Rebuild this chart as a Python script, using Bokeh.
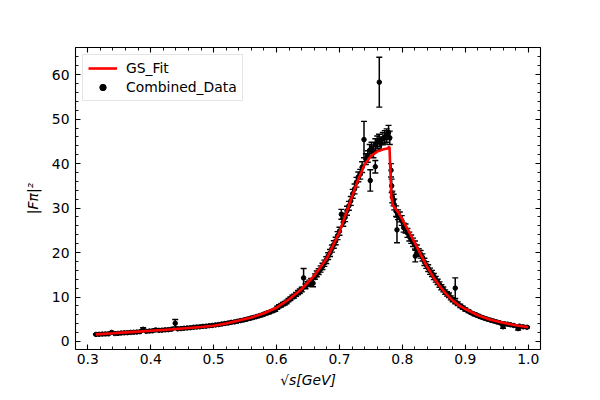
from bokeh.plotting import figure
from bokeh.models import (ColumnDataSource, LinearAxis, Range1d, SingleIntervalTicker,
                          NumeralTickFormatter, CustomJSTickFormatter, Legend, LegendItem)
from bokeh.embed import file_html
from bokeh.resources import INLINE

# ---------------- data ----------------
# Combined data: sqrt(s) [GeV], |F_pi|^2, error
data_x = [0.313, 0.318, 0.323, 0.328, 0.333, 0.338, 0.343, 0.348, 0.353, 0.358,
          0.363, 0.368, 0.373, 0.378, 0.383, 0.388, 0.393, 0.398, 0.403, 0.408,
          0.413, 0.418, 0.423, 0.428, 0.433, 0.439, 0.443, 0.448, 0.453, 0.458,
          0.463, 0.468, 0.473, 0.478, 0.483, 0.488, 0.493, 0.498, 0.503, 0.508,
          0.513, 0.518, 0.523, 0.528, 0.533, 0.538, 0.543, 0.548, 0.553, 0.558,
          0.563, 0.568, 0.573, 0.578, 0.583, 0.588, 0.593, 0.598,
          0.601, 0.604, 0.607, 0.610, 0.613, 0.616, 0.619, 0.622, 0.625, 0.628,
          0.631, 0.634, 0.637, 0.640, 0.643, 0.646, 0.649, 0.652, 0.655, 0.658,
          0.661, 0.664, 0.667, 0.670, 0.673, 0.676, 0.679, 0.682, 0.685, 0.688,
          0.691, 0.694, 0.697, 0.700, 0.703, 0.706, 0.709, 0.712, 0.715, 0.718,
          0.721, 0.724, 0.727, 0.730, 0.733, 0.736, 0.739, 0.742, 0.745, 0.748,
          0.749, 0.751, 0.754, 0.757, 0.757, 0.760, 0.7633, 0.763, 0.766, 0.769,
          0.772, 0.775, 0.778, 0.780, 0.782, 0.783, 0.784, 0.786, 0.787, 0.790,
          0.7914, 0.793, 0.796, 0.799, 0.802, 0.805, 0.808, 0.811, 0.814, 0.817,
          0.8205, 0.820, 0.823, 0.826, 0.829, 0.832, 0.835, 0.838, 0.841, 0.844,
          0.847, 0.850,
          0.853, 0.856, 0.859, 0.862, 0.865, 0.868, 0.871, 0.874, 0.877, 0.880,
          0.884, 0.884, 0.888, 0.892, 0.896, 0.900, 0.905, 0.910, 0.915, 0.920,
          0.925, 0.930, 0.935, 0.940, 0.945, 0.950, 0.955, 0.960, 0.962, 0.967,
          0.972, 0.977, 0.984, 0.986, 0.992, 0.998]
data_y = [1.60, 1.62, 1.66, 1.70, 1.72, 2.05, 1.78, 1.82, 1.90, 1.95,
          1.98, 2.05, 2.08, 2.12, 2.20, 2.75, 2.28, 2.35, 2.40, 2.60,
          2.50, 2.55, 2.62, 2.66, 2.75, 4.10, 2.85, 2.90, 2.98, 3.05,
          3.10, 3.20, 3.25, 3.30, 3.40, 3.45, 3.55, 3.62, 3.72, 3.80,
          3.92, 4.05, 4.15, 4.30, 4.40, 4.55, 4.70, 4.85, 5.02, 5.20,
          5.40, 5.58, 5.80, 6.02, 6.30, 6.55, 6.85, 7.10,
          7.6, 7.9, 8.1, 8.4, 8.6, 8.9, 9.3, 9.6, 10.0, 10.2,
          10.6, 11.0, 11.3, 11.7, 14.3, 12.4, 12.9, 13.2, 13.6, 13.1,
          14.6, 15.2, 15.7, 16.3, 16.9, 17.6, 18.3, 19.2, 19.9, 20.9,
          21.8, 22.6, 23.8, 24.8, 28.6, 26.8, 27.9, 29.4, 30.5, 31.6,
          33.2, 34.3, 35.8, 37.0, 37.6, 39.2, 45.4, 41.0, 41.6, 43.0,
          36.2, 43.5, 42.6, 39.3, 44.3, 44.8, 58.3, 45.2, 44.6, 45.6,
          45.9, 46.3, 47.0, 45.8, 38.5, 35.0, 32.5, 31.8, 30.8, 29.3,
          25.1, 28.5, 28.0, 27.2, 25.6, 25.4, 24.4, 23.6, 23.0, 22.3,
          19.2, 21.7, 20.8, 20.0, 19.6, 18.9, 17.9, 17.2, 16.5, 15.8,
          15.3, 14.6,
          14.0, 13.4, 12.8, 12.2, 11.7, 11.1, 10.7, 10.4, 9.8, 9.4,
          12.0, 8.9, 8.5, 8.0, 7.6, 7.2, 6.8, 6.4, 6.1, 5.8,
          5.5, 5.25, 5.0, 4.8, 4.6, 4.4, 4.2, 3.3, 4.0, 3.9,
          3.75, 3.6, 2.9, 3.45, 3.3, 3.2]
data_err = [0.10, 0.10, 0.10, 0.10, 0.12, 0.15, 0.10, 0.10, 0.12, 0.10,
            0.12, 0.12, 0.12, 0.12, 0.12, 0.35, 0.12, 0.12, 0.14, 0.25,
            0.14, 0.14, 0.14, 0.15, 0.15, 0.85, 0.15, 0.15, 0.15, 0.16,
            0.16, 0.16, 0.17, 0.17, 0.18, 0.18, 0.18, 0.18, 0.20, 0.20,
            0.20, 0.20, 0.20, 0.22, 0.22, 0.22, 0.24, 0.24, 0.25, 0.25,
            0.26, 0.27, 0.28, 0.28, 0.30, 0.30, 0.32, 0.33,
            0.35, 0.35, 0.35, 0.38, 0.38, 0.40, 0.40, 0.42, 0.42, 0.45,
            0.45, 0.50, 0.50, 0.50, 2.10, 0.55, 0.55, 0.60, 0.60, 0.80,
            0.60, 0.65, 0.65, 0.70, 0.70, 0.70, 0.75, 0.75, 0.80, 0.80,
            0.85, 0.85, 0.90, 0.90, 1.10, 0.90, 0.95, 1.00, 1.00, 1.00,
            1.00, 1.10, 1.10, 1.10, 1.10, 1.20, 4.10, 1.20, 1.30, 1.30,
            2.40, 1.30, 1.30, 1.40, 1.30, 1.40, 5.60, 1.40, 1.40, 1.40,
            1.50, 1.50, 1.60, 1.50, 1.50, 1.50, 1.30, 1.30, 1.20, 1.20,
            2.90, 1.10, 1.10, 1.10, 1.00, 1.00, 1.00, 1.00, 0.95, 0.95,
            1.30, 0.90, 0.90, 0.85, 0.85, 0.80, 0.80, 0.75, 0.75, 0.70,
            0.70, 0.70,
            0.65, 0.60, 0.60, 0.55, 0.55, 0.50, 0.50, 0.50, 0.45, 0.45,
            2.30, 0.40, 0.40, 0.38, 0.36, 0.35, 0.32, 0.30, 0.30, 0.28,
            0.26, 0.25, 0.25, 0.24, 0.22, 0.22, 0.20, 0.35, 0.20, 0.20,
            0.20, 0.20, 0.30, 0.18, 0.18, 0.18]

# GS fit curve
fit_x = [0.3127, 0.34, 0.36, 0.38, 0.40, 0.42, 0.44, 0.46, 0.48, 0.50,
         0.52, 0.54, 0.56, 0.58, 0.60, 0.62, 0.64, 0.66, 0.68, 0.70,
         0.71, 0.72, 0.73, 0.74, 0.75, 0.76, 0.77, 0.776, 0.7795, 0.781,
         0.7825, 0.785, 0.79, 0.795, 0.80, 0.81, 0.82, 0.83, 0.84, 0.85,
         0.86, 0.87, 0.88, 0.89, 0.90, 0.92, 0.94, 0.96, 0.98, 1.00]
fit_y = [1.60, 1.85, 2.05, 2.22, 2.40, 2.60, 2.80, 3.02, 3.25, 3.55,
         4.05, 4.70, 5.40, 6.35, 7.60, 9.50, 11.8, 14.8, 18.7, 24.6,
         28.6, 32.6, 36.5, 39.8, 41.7, 42.7, 43.2, 43.4, 43.8, 38.0,
         32.5, 30.6, 29.7, 28.7, 27.4, 24.8, 22.1, 19.3, 16.6, 14.3,
         12.3, 10.6, 9.2, 8.1, 7.3, 5.9, 4.9, 4.2, 3.65, 3.2]

x_ticks_interval = 0.1
y_ticks_interval = 10

# ---------------- figure ----------------
FONT = "DejaVu Sans"
FS = "13.9px"

p = figure(frame_width=465, frame_height=302,
           min_border_left=75, min_border_right=52,
           min_border_top=47, min_border_bottom=43,
           x_range=Range1d(0.2805, 1.0195), y_range=Range1d(-1.8, 66.1),
           output_backend="svg", toolbar_location=None,
           background_fill_color="white", border_fill_color="white")
p.grid.visible = False
p.outline_line_color = "black"
p.outline_line_width = 1.1

src = ColumnDataSource(dict(x=data_x, y=data_y,
                            lo=[y - e for y, e in zip(data_y, data_err)],
                            hi=[y + e for y, e in zip(data_y, data_err)]))

p.segment(x0="x", y0="lo", x1="x", y1="hi", source=src,
          line_color="black", line_width=1.5)
p.scatter(x="x", y="lo", source=src, marker="dash", size=6,
          line_color="black", line_width=1.4)
p.scatter(x="x", y="hi", source=src, marker="dash", size=6,
          line_color="black", line_width=1.4)
dots = p.scatter(x="x", y="y", source=src, marker="circle", size=4.5,
                 fill_color="black", line_color="black")

fit_line = p.line(fit_x, fit_y, line_color="#ff0000", line_width=2.6)

# axes styling
def style_axis(ax):
    ax.axis_line_color = None
    ax.major_tick_in = 5
    ax.major_tick_out = 0
    ax.minor_tick_in = 3
    ax.minor_tick_out = 0
    ax.major_tick_line_color = "black"
    ax.minor_tick_line_color = "black"
    ax.major_tick_line_width = 1.1
    ax.minor_tick_line_width = 0.9
    ax.major_label_text_font = FONT
    ax.major_label_text_font_size = FS
    ax.major_label_text_color = "black"
    ax.major_label_standoff = 4

p.xaxis.ticker = SingleIntervalTicker(interval=x_ticks_interval, num_minor_ticks=5)
p.yaxis.ticker = SingleIntervalTicker(interval=y_ticks_interval, num_minor_ticks=5)
p.xaxis.formatter = NumeralTickFormatter(format="0.0")
p.yaxis.formatter = NumeralTickFormatter(format="0")
style_axis(p.xaxis[0])
style_axis(p.yaxis[0])
p.yaxis.major_label_standoff = 6

p.xaxis.axis_label = "√s[GeV]"
p.yaxis.axis_label = "|Fπ|²"
for ax in (p.xaxis[0], p.yaxis[0]):
    ax.axis_label_text_font = FONT
    ax.axis_label_text_font_size = FS
    ax.axis_label_text_font_style = "italic"
    ax.axis_label_text_color = "black"
p.xaxis.axis_label_standoff = 5
p.yaxis.axis_label_standoff = 8

top = LinearAxis(ticker=SingleIntervalTicker(interval=x_ticks_interval, num_minor_ticks=5),
                 formatter=CustomJSTickFormatter(code="return ''"))
right = LinearAxis(ticker=SingleIntervalTicker(interval=y_ticks_interval, num_minor_ticks=5),
                   formatter=CustomJSTickFormatter(code="return ''"))
style_axis(top)
style_axis(right)
top.major_label_standoff = 0
right.major_label_standoff = 0
p.add_layout(top, "above")
p.add_layout(right, "right")

legend = Legend(items=[LegendItem(label="GS_Fit", renderers=[fit_line]),
                       LegendItem(label="Combined_Data", renderers=[dots])],
                location="top_left")
legend.margin = 7
legend.padding = 5
legend.spacing = 3
legend.glyph_width = 29
legend.glyph_height = 16
legend.label_height = 16
legend.label_standoff = 9
legend.label_text_font = FONT
legend.label_text_font_size = FS
legend.label_text_color = "black"
legend.border_line_color = "#cccccc"
legend.border_line_width = 1
legend.background_fill_color = "white"
legend.background_fill_alpha = 0.8
p.add_layout(legend)

open("out.html", "w").write(file_html(p, INLINE))
